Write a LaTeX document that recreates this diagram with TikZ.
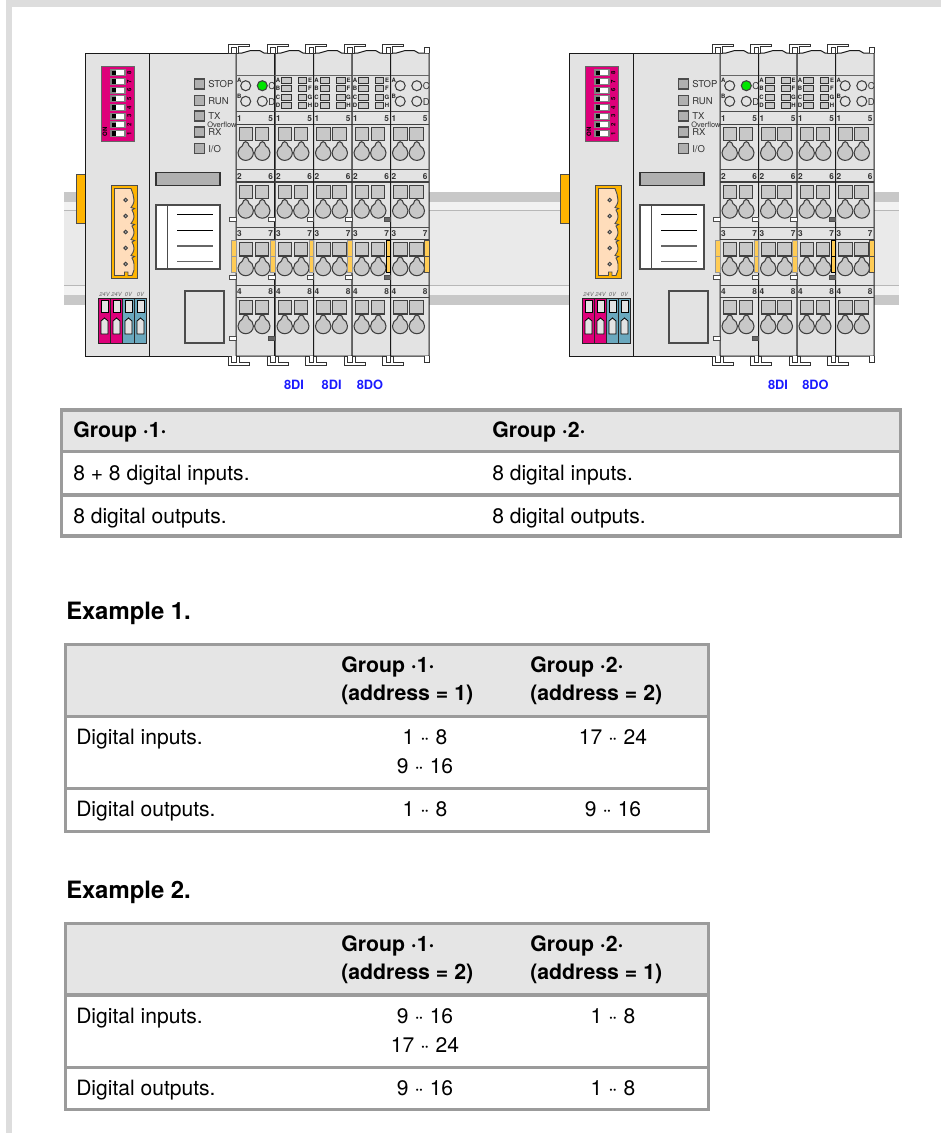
\documentclass[tikz,border=0pt]{standalone}
\usepackage{fontspec}
\setmainfont{TeX Gyre Heros}
\definecolor{pgband}{RGB}{221,221,221}
\definecolor{railgray}{RGB}{200,200,200}
\definecolor{raillight}{RGB}{242,242,242}
\definecolor{railbody}{RGB}{234,234,234}
\definecolor{unitgray}{RGB}{227,227,227}
\definecolor{tabrule}{RGB}{155,155,155}
\definecolor{tabhead}{RGB}{229,229,229}
\definecolor{dippink}{RGB}{222,0,122}
\definecolor{termblue}{RGB}{106,168,190}
\definecolor{tabyellow}{RGB}{255,204,85}
\definecolor{clamporange}{RGB}{255,180,0}
\definecolor{plugpeach}{RGB}{255,221,187}
\definecolor{ledgreen}{RGB}{0,230,0}
\definecolor{ledgray}{RGB}{176,176,176}
\definecolor{slotgray}{RGB}{200,200,200}
\definecolor{labelblue}{RGB}{26,26,255}
\usetikzlibrary{arrows.meta,positioning,calc}
\tikzset{
  unitbox/.style={draw=black!90, fill=unitgray, line width=0.75pt},
  clipbox/.style={draw=black!80, fill=white, line width=0.65pt},
  slot/.style={draw=black!75, fill=slotgray, line width=0.8pt},
  tabtxt/.style={anchor=base west, inner sep=0pt, font=\fontsize{15.8}{18}\selectfont},
  tabmid/.style={anchor=base, inner sep=0pt, font=\fontsize{15.8}{18}\selectfont},
  tabbold/.style={anchor=base west, inner sep=0pt, font=\fontsize{15.95}{18}\selectfont\bfseries},
  headtxt/.style={anchor=base west, inner sep=0pt, font=\fontsize{17.9}{20}\selectfont\bfseries},
  ledtxt/.style={anchor=west, inner sep=0pt, text=black!80, font=\fontsize{7.1}{8}\selectfont},
  rownum/.style={inner sep=0pt, font=\fontsize{6.2}{7}\selectfont\bfseries, text=black!80},
  tinyl/.style={inner sep=0pt, font=\fontsize{4.5}{5}\selectfont\bfseries, text=black!85},
  keyhole/.pic={
    \draw[draw=black!75, fill=slotgray, line width=0.8pt] (-3,-6.3) .. controls (-5,-5.3) and (-7,-3) .. (-7,0)
      .. controls (-7,3.9) and (-3.9,7) .. (0,7) .. controls (3.9,7) and (7,3.9) .. (7,0)
      .. controls (7,-3) and (5,-5.3) .. (3,-6.3) .. controls (2.6,-8.5) and (1.5,-10) .. (0,-10)
      .. controls (-1.5,-10) and (-2.6,-8.5) .. (-3,-6.3) -- cycle;
  }
}
\newcommand{\dts}{·\kern-1.6pt·}

% head of a coupler, x = 0 is the first module
\newcommand{\headunit}[2]{%
  \begin{scope}[shift={(#1,0)}]
    \fill[clamporange, draw=black!70, line width=0.5pt] (76,174) rectangle (85,223);
    \draw[unitbox] (85,53) rectangle (149,356);
    \draw[unitbox] (149,53) rectangle (236,356);
    % dip switch
    \fill[dippink, draw=black!60, line width=0.4pt] (101,66) rectangle (134,141);
    \foreach \yy/\dd in {72.7/8,81.4/7,90.1/6,98.7/5,107.4/4,116.1/3,124.8/2,133.5/1} {
      \draw[fill=white, draw=black!50, line width=0.8pt] (110.5,\yy-3) rectangle (125,\yy+3);
      \fill[black!50] (110.5,\yy-3) rectangle (116,\yy+3);
      \fill[black] (112,\yy-2.2) rectangle (115.5,\yy+2.2);
      \node[tinyl, rotate=90, text=black] (#2dip\dd) at (129.3,\yy) {\dd};
    }
    \node[tinyl, rotate=90, text=black] (#2on) at (105,131.7) {ON};
    % leds
    \foreach \yy/\tt in {84/STOP,100.7/RUN,116/TX,132/RX,148.7/{I/O}} {
      \draw[draw=black!70, fill=ledgray, line width=0.8pt] (194.5,\yy-5) rectangle (204.5,\yy+5);
      \node[ledtxt] (#2led\yy) at (208,\yy) {\tt};
    }
    \node[ledtxt, font=\fontsize{5.6}{6}\selectfont] (#2ovf) at (207,125) {Overflow};
    \draw[draw=black!80, fill=ledgray, line width=0.8pt] (156,172.5) rectangle (220,185.5);
    % label holder
    \draw[draw=black!70, fill=white, line width=0.8pt] (156,205) rectangle (220,269);
    \draw[black!70, line width=0.8pt] (167.3,205) -- (167.3,269);
    \draw[black, line width=0.6pt] (177,214.5) -- (213,214.5);
    \draw[black, line width=0.6pt] (177,230.3) -- (213,230.3);
    \draw[black!60, line width=0.8pt] (177,246) -- (213,246);
    \draw[black!60, line width=0.8pt] (177,261.7) -- (213,261.7);
    % plug
    \fill[clamporange, draw=black!70, line width=0.6pt] (111.5,185.5) rectangle (137,278.5);
    \draw[fill=plugpeach, draw=black!70, line width=0.7pt] (114.5,188.5) -- (131,188.5) -- (133,194) -- (134,200)
      .. controls (134,204) and (132,206) .. (131,207.5) -- (134.5,208.5) -- (132,210) .. controls (133,212) and (134,214) .. (134,216)
      .. controls (134,220) and (132,222) .. (131,223.5) -- (134.5,224.5) -- (132,226) .. controls (133,228) and (134,230) .. (134,232)
      .. controls (134,236) and (132,238) .. (131,239.5) -- (134.5,240.5) -- (132,242) .. controls (133,244) and (134,246) .. (134,248)
      .. controls (134,252) and (132,254) .. (131,255.5) -- (134.5,256.5) -- (132,258) .. controls (133,260) and (134,262) .. (134,264)
      -- (134,270) -- (132,275.5) -- (128,275.5) -- (128,272) -- (124.5,272) -- (124.5,275.5) -- (114.5,275.5) -- cycle;
    \foreach \yy in {200,216,232,248,264}
      \draw[draw=black!75, fill=black!25, line width=0.7pt] (125.7,\yy) circle[radius=1.8];
    % power terminals
    \foreach \xx/\cc/\tt in {98.5/dippink/24V,110.5/dippink/24V,122.5/termblue/0V,134.5/termblue/0V} {
      \draw[fill=\cc, draw=black!85, line width=0.6pt] (\xx,298) rectangle (\xx+12,343);
      \draw[fill=unitgray, draw=black, line width=0.6pt] (\xx+2.5,300) rectangle (\xx+9.5,312.5);
      \draw[fill=unitgray, draw=black, line width=0.6pt] (\xx+2.5,334) -- (\xx+2.5,321) -- (\xx+6,318) -- (\xx+9.5,321) -- (\xx+9.5,334) -- cycle;
      \node[inner sep=0pt, text=black!60, font=\fontsize{4.3}{5}\selectfont\itshape] (#2pw\xx) at (\xx+6,294) {\tt};
    }
    \draw[draw=black!70, fill=unitgray, line width=0.9pt] (185,291) rectangle (224,343);
  \end{scope}
}

% top and bottom clips on a slice border
\newcommand{\railclips}[1]{%
  \begin{scope}[shift={(#1,0)}]
    \draw[clipbox] (-7.7,53) -- (-7.7,44) -- (13.3,44) -- (13.3,46.7) -- (2.3,46.7) -- (2.3,53) -- cycle;
    \draw[clipbox] (-4.3,53) -- (-4.3,47) -- (0,47) -- (0,53);
    \draw[clipbox] (-7.7,356) -- (-7.7,365.7) -- (13.3,365.7) -- (13.3,362.3) -- (3.3,362.3) -- (3.3,356) -- cycle;
    \draw[clipbox] (-4.3,356) -- (-4.3,362.3) -- (0,362.3) -- (0,356);
  \end{scope}
}

% one i/o slice, 38.5 wide
\newcommand{\ioslice}[3]{%
  \begin{scope}[shift={(#1,0)}]
    \draw[unitbox] (0,53) -- (6,53) -- (14,50.7) -- (24,50.7) -- (28,53) -- (38.5,53) -- (38.5,356) -- (0,356) -- cycle;
    \draw[black!60, line width=0.7pt] (0,75.8) -- (38.5,75.8);
    \foreach \rt/\na/\nb in {111.7/1/5,169.5/2/6,227/3/7,285/4/8} {
      \draw[black!70, line width=0.7pt] (0,\rt) -- (38.5,\rt);
      \draw[black!75, line width=0.9pt] (0,\rt+12.5) -- (38.5,\rt+12.5);
      \node[rownum] (#2n\na) at (3.5,\rt+7) {\na};
      \node[rownum] (#2n\nb) at (34.7,\rt+7) {\nb};
      \draw[slot] (3.3,\rt+15.6) rectangle (16.7,\rt+29);
      \draw[slot] (19.3,\rt+15.6) rectangle (32.7,\rt+29);
      \pic[scale=1.1] at (9.7,\rt+41) {keyhole};
      \pic[scale=1.1] at (26.3,\rt+41) {keyhole};
    }
    #3
  \end{scope}
}
\newcommand{\ledcell}[2]{%
  \draw[draw=black!75, fill=unitgray, line width=0.8pt] (9.7,85.7) circle[radius=5];
  \draw[draw=black!75, fill=unitgray, line width=0.8pt] (9.7,101.3) circle[radius=5];
  \draw[draw=black!75, fill=#2, line width=0.8pt] (26.3,85.7) circle[radius=5];
  \draw[draw=black!75, fill=unitgray, line width=0.8pt] (26.3,101.3) circle[radius=5];
  \node[tinyl] (#1a) at (3.3,80) {A};
  \node[tinyl] (#1b) at (3.3,96) {B};
  \node[ledtxt] (#1c) at (32,86.5) {C};
  \node[ledtxt] (#1d) at (32,102) {D};
}
\newcommand{\barcell}[1]{%
  \foreach \yy/\la/\lb in {80.3/A/E,88.6/B/F,97/C/G,105.3/D/H} {
    \draw[draw=black!80, fill=slotgray, line width=0.7pt] (6.7,\yy-3) rectangle (16,\yy+3);
    \draw[draw=black!80, fill=slotgray, line width=0.7pt] (23,\yy-3) rectangle (31.7,\yy+3);
    \node[tinyl] (#1\la) at (3,\yy) {\la};
    \node[tinyl] (#1\lb) at (35,\yy) {\lb};
  }
}
% yellow tab and small latches on a slice border
\newcommand{\sidetab}[2]{%
  \draw[draw=#2, fill=tabyellow, line width=0.6pt] (#1-4.5,240) rectangle (#1,272.5);
  \draw[draw=#2, line width=0.6pt] (#1-4.5,256) -- (#1,256);
}
\newcommand{\latch}[3]{%
  \draw[draw=black!70, fill=#3, line width=0.6pt] (#1-6.3,#2-2) rectangle (#1,#2+2);
}

\begin{document}
\begin{tikzpicture}[x=0.75pt,y=-0.75pt]
  \useasboundingbox (0,0) rectangle (941,1133);
  \fill[pgband] (6,0) rectangle (941,7);
  \fill[pgband] (6,0) rectangle (12,1133);

  % din rail
  \fill[railbody] (64,192) rectangle (899,305);
  \fill[railgray] (64,192) rectangle (899,201.5);
  \fill[raillight] (64,201.5) rectangle (899,210.5);
  \draw[black!28, line width=0.6pt] (64,210.8) -- (899,210.8);
  \draw[black!28, line width=0.6pt] (64,285) -- (899,285);
  \fill[raillight] (64,285.5) rectangle (899,295);
  \fill[railgray] (64,295) rectangle (899,305);

  % group 1
  \headunit{0}{g}
  \ioslice{236}{ga}{\ledcell{ga}{ledgreen}}
  \ioslice{275}{gb}{\barcell{gb}}
  \ioslice{313.5}{gc}{\barcell{gc}}
  \ioslice{352}{gd}{\barcell{gd}}
  \ioslice{390.5}{ge}{\ledcell{ge}{unitgray}}
  \foreach \xx in {236,275,313.5,352,390.5} {
    \railclips{\xx}
  }
  \draw[clipbox] (424,53) -- (424,47) -- (429,47) -- (429,53);
  \draw[clipbox] (424,356) -- (424,362) -- (429,362) -- (429,356);
  \foreach \xx in {236,275,313.5,352} {
    \sidetab{\xx}{black!40}
  }
  \sidetab{390.5}{black}
  \sidetab{429}{black!70}
  \foreach \xx in {236,275,313.5,352} {
    \latch{\xx}{219}{white}
    \latch{\xx}{277}{white}
  }
  \latch{390.5}{219}{black!60}
  \latch{390.5}{277}{black!60}
  \latch{236}{338.7}{white}
  \latch{275}{338.7}{black!60}
  \node[inner sep=0pt, text=labelblue, font=\fontsize{9.6}{11}\selectfont\bfseries] (di1) at (294,384.5) {8DI};
  \node[inner sep=0pt, text=labelblue, font=\fontsize{9.6}{11}\selectfont\bfseries] (di2) at (331.7,384.5) {8DI};
  \node[inner sep=0pt, text=labelblue, font=\fontsize{9.6}{11}\selectfont\bfseries] (do1) at (370,384.5) {8DO};

  % group 2
  \headunit{484}{h}
  \ioslice{720}{ha}{\ledcell{ha}{ledgreen}}
  \ioslice{758.5}{hb}{\barcell{hb}}
  \ioslice{797}{hc}{\barcell{hc}}
  \ioslice{835.5}{hd}{\ledcell{hd}{unitgray}}
  \foreach \xx in {720,758.5,797,835.5} {
    \railclips{\xx}
  }
  \draw[clipbox] (869,53) -- (869,47) -- (874,47) -- (874,53);
  \draw[clipbox] (869,356) -- (869,362) -- (874,362) -- (874,356);
  \foreach \xx in {720,758.5,797} {
    \sidetab{\xx}{black!40}
  }
  \sidetab{835.5}{black}
  \sidetab{874}{black!70}
  \foreach \xx in {720,758.5,797} {
    \latch{\xx}{219}{white}
    \latch{\xx}{277}{white}
  }
  \latch{835.5}{219}{black!60}
  \latch{835.5}{277}{black!60}
  \latch{720}{338.7}{white}
  \latch{758.5}{338.7}{black!60}
  \node[inner sep=0pt, text=labelblue, font=\fontsize{9.6}{11}\selectfont\bfseries] (di3) at (778,384.5) {8DI};
  \node[inner sep=0pt, text=labelblue, font=\fontsize{9.6}{11}\selectfont\bfseries] (do2) at (815.5,384.5) {8DO};

  % table of groups
  \fill[tabhead] (61.7,410) rectangle (900.5,451.7);
  \draw[tabrule, line width=2.4pt] (61.7,410) rectangle (900.5,536);
  \draw[tabrule, line width=2.4pt] (61.7,451.7) -- (900.5,451.7);
  \draw[tabrule, line width=2.4pt] (61.7,495) -- (900.5,495);
  \node[tabbold] (t1a) at (73,437) {Group ·1·};
  \node[tabbold] (t1b) at (492,437) {Group ·2·};
  \node[tabtxt] (t1c) at (73,480) {8 + 8 digital inputs.};
  \node[tabtxt] (t1d) at (492,480) {8 digital inputs.};
  \node[tabtxt] (t1e) at (73,523) {8 digital outputs.};
  \node[tabtxt] (t1f) at (492,523) {8 digital outputs.};

  % example 1
  \node[headtxt] (ex1) at (66,619) {Example 1.};
  \fill[tabhead] (65.7,644.7) rectangle (708.3,716.7);
  \draw[tabrule, line width=2.4pt] (65.7,644.7) rectangle (708.3,831.3);
  \draw[tabrule, line width=2.4pt] (65.7,716.7) -- (708.3,716.7);
  \draw[tabrule, line width=2.4pt] (65.7,788.3) -- (708.3,788.3);
  \node[tabbold] (t2a) at (341,672) {Group ·1·};
  \node[tabbold] (t2b) at (341,700) {(address = 1)};
  \node[tabbold] (t2c) at (530,672) {Group ·2·};
  \node[tabbold] (t2d) at (530,700) {(address = 2)};
  \node[tabtxt] (t2e) at (76,744) {Digital inputs.};
  \node[tabmid] (t2f) at (425,744) {1 \dts{} 8};
  \node[tabmid] (t2g) at (425,773) {9 \dts{} 16};
  \node[tabmid] (t2h) at (613,744) {17 \dts{} 24};
  \node[tabtxt] (t2i) at (76,816) {Digital outputs.};
  \node[tabmid] (t2j) at (425,816) {1 \dts{} 8};
  \node[tabmid] (t2k) at (613,816) {9 \dts{} 16};

  % example 2
  \node[headtxt] (ex2) at (66,898) {Example 2.};
  \fill[tabhead] (65.7,923.7) rectangle (708.3,995);
  \draw[tabrule, line width=2.4pt] (65.7,923.7) rectangle (708.3,1109.7);
  \draw[tabrule, line width=2.4pt] (65.7,995) -- (708.3,995);
  \draw[tabrule, line width=2.4pt] (65.7,1067.5) -- (708.3,1067.5);
  \node[tabbold] (t3a) at (341,951) {Group ·1·};
  \node[tabbold] (t3b) at (341,979) {(address = 2)};
  \node[tabbold] (t3c) at (530,951) {Group ·2·};
  \node[tabbold] (t3d) at (530,979) {(address = 1)};
  \node[tabtxt] (t3e) at (76,1023) {Digital inputs.};
  \node[tabmid] (t3f) at (425,1023) {9 \dts{} 16};
  \node[tabmid] (t3g) at (425,1052) {17 \dts{} 24};
  \node[tabmid] (t3h) at (613,1023) {1 \dts{} 8};
  \node[tabtxt] (t3i) at (76,1095) {Digital outputs.};
  \node[tabmid] (t3j) at (425,1095) {9 \dts{} 16};
  \node[tabmid] (t3k) at (613,1095) {1 \dts{} 8};
\end{tikzpicture}
\end{document}
